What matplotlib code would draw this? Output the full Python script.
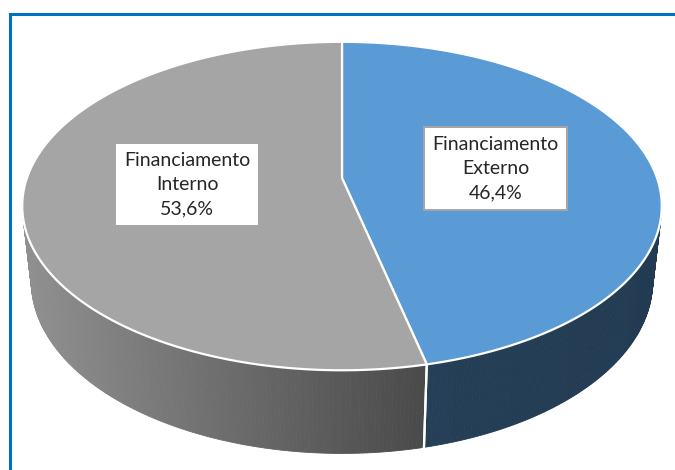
import numpy as np
import matplotlib.pyplot as plt
from matplotlib.patches import Polygon

# data
labels = ['Financiamento\nExterno', 'Financiamento\nInterno']
shares = [46.4, 53.6]
top_colors = ['#5b9bd5', '#a5a5a5']
wall_colors = [('#243f57', '#223b52'), ('#909090', '#4a4a4a')]

W, H = 675, 470
fig = plt.figure(figsize=(W / 100, H / 100), dpi=100)
ax = fig.add_axes([0, 0, 1, 1])
ax.set_xlim(0, W)
ax.set_ylim(H, 0)
ax.axis('off')

# perspective camera for the 3d pie (pixel units)
cx, cy = 342, 178
elev = np.radians(30.4)
D = 5.05
f = 1591.0
h = 0.2825


def proj(X, Z, Y=0.0):
    d = D + Z * np.cos(elev) - Y * np.sin(elev)
    sx = cx + f * X / d
    sy = cy - f * (Y * np.cos(elev) + Z * np.sin(elev)) / d
    return sx, sy


def hexrgb(c):
    c = c.lstrip('#')
    return np.array([int(c[i:i + 2], 16) / 255 for i in (0, 2, 4)])


# slice angles, clockwise from the top
bounds = []
a = 90.0
for s in shares:
    b = a - s / 100 * 360
    bounds.append((a, b))
    a = b

# side walls (drawn first, only the front part shows)
for k, (a0, a1) in enumerate(bounds):
    t = np.radians(np.linspace(a0, a1, 300))
    tx, ty = proj(np.cos(t), np.sin(t), 0)
    bx, by = proj(np.cos(t), np.sin(t), -h)
    c0, c1 = hexrgb(wall_colors[k][0]), hexrgb(wall_colors[k][1])
    vis = np.sin(t) < 0.2
    xs = tx[vis]
    if len(xs) == 0:
        continue
    lo, hi = xs.min(), xs.max()
    for i in range(len(t) - 1):
        if not (vis[i] or vis[i + 1]):
            continue
        fr = (tx[i] - lo) / (hi - lo) if hi > lo else 0
        col = c0 + (c1 - c0) * np.clip(fr, 0, 1)
        quad = [(tx[i], ty[i]), (tx[i + 1], ty[i + 1]), (bx[i + 1], by[i + 1]), (bx[i], by[i])]
        ax.add_patch(Polygon(quad, closed=True, facecolor=col, edgecolor=col, lw=0.6, zorder=2))

# white seam down the wall
for a0, a1 in bounds:
    for ang in (a0, a1):
        r = np.radians(ang)
        if np.sin(r) < 0:
            p0 = proj(np.cos(r), np.sin(r), 0)
            p1 = proj(np.cos(r), np.sin(r), -h)
            ax.plot([p0[0], p1[0]], [p0[1], p1[1]], color='white', lw=1.6, zorder=3)

# top faces
for k, (a0, a1) in enumerate(bounds):
    t = np.radians(np.linspace(a0, a1, 300))
    tx, ty = proj(np.cos(t), np.sin(t), 0)
    pts = [(cx, cy)] + list(zip(tx, ty))
    ax.add_patch(Polygon(pts, closed=True, facecolor=top_colors[k], edgecolor='white',
                         lw=1.6, joinstyle='round', zorder=4))

# labels
label_pos = [(495.5, 168.5), (187, 184.5)]
for k, lab in enumerate(labels):
    txt = lab + '\n' + f'{shares[k]:.1f}%'.replace('.', ',')
    ax.text(label_pos[k][0], label_pos[k][1], txt, ha='center', va='center',
            fontsize=14, family='Lato', linespacing=1.5,
            color='#262626', zorder=6,
            bbox=dict(boxstyle='square,pad=0.45', facecolor='white', edgecolor='#a5a5a5', lw=1.4))

# chart frame (cropped at right and bottom)
ax.plot([10, 10, W + 5], [H + 5, 14, 14], color='#0070c0', lw=2.2, zorder=7,
        solid_joinstyle='miter')

fig.savefig('out.png', dpi=100)
